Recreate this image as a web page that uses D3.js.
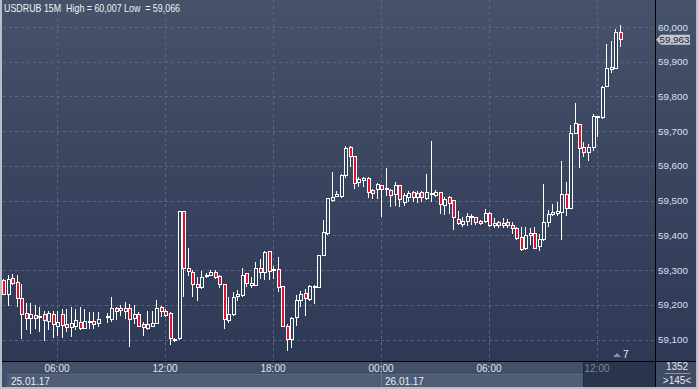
<!DOCTYPE html>
<html><head><meta charset="utf-8">
<script src="https://cdn.jsdelivr.net/npm/d3@7"></script>
<style>html,body{margin:0;padding:0;background:#2c3855;}svg{display:block;}text{font-family:"Liberation Sans",Arial,sans-serif;}</style>
</head><body>
<script>
// ---- data (15-minute candles from 25.01.17 03:00) ----
const opens = [59270,59229,59275,59263,59217,59176,59161,59170,59165,59171,59152,59171,59138,59173,59142,59135,59138,59148,59133,59150,59152,59147,null,59162,59159,59188,59184,59188,59190,59161,59171,59142,59132,59138,59147,59191,59181,59174,59100,59102,59469,59305,59294,59259,59249,59281,59285,59294,59282,59257,59155,59172,59225,59227,59289,59262,59255,59305,59294,59353,59301,59303,59253,59138,59100,59164,59212,59233,59215,59250,59251,59342,59406,59500,59513,59512,59572,59652,59627,59553,59559,59563,59529,59531,59543,59536,59529,59519,59543,59495,59509,59522,59509,59522,59505,59519,59515,59522,59487,59509,59499,59447,59432,59440,59452,59450,59440,59440,59464,59429,59436,59429,59436,59428,59421,59394,59362,59404,59404,59368,59387,59437,59459,59464,59466,59519,59478,59694,59718,59652,59639,59654,59743,59738,59830,59877,59881,59985];
const highs = [59275,59286,59288,59286,59260,59205,59205,59198,59193,59183,59183,59181,59183,59188,59188,59193,59188,59193,59188,59179,59178,59178,null,59176,59222,59193,59198,59207,59203,59198,59179,59150,59183,59183,59214,59196,59188,59179,59104,59470,59470,59363,59299,59279,59296,59292,59299,59299,59286,59257,59222,59236,59244,59305,59292,59279,59324,59332,59356,59356,59313,59337,59253,59145,59164,59227,59241,59246,59257,59257,59344,59443,59508,59583,59529,59577,59656,59657,59627,59569,59567,59569,59533,59550,59543,59593,59533,59555,59543,59521,59529,59529,59527,59529,59577,59673,59531,59524,59509,59514,59499,59469,59452,59463,59461,59454,59444,59476,59466,59450,59442,59450,59447,59437,59425,59423,59423,59421,59423,59404,59548,59473,59490,59495,59615,59555,59719,59782,59718,59670,59663,59750,59743,59829,59950,59959,59995,60007];
const lows = [59227,59196,59257,59193,59102,59126,59116,59131,59121,59097,59126,59104,59111,59104,59121,59107,59126,59126,59129,59131,59131,59135,null,59148,59150,59155,59169,59159,59078,59145,59135,59109,59126,59135,59145,59164,59164,59083,59094,59100,59222,59284,59222,59212,59246,59277,59282,59275,59248,59129,59148,59169,59212,59222,59251,59248,59253,59275,59270,59270,59275,59236,59135,59066,59075,59140,59193,59169,59212,59203,59248,59340,59402,59495,59509,59507,59565,59596,59533,59538,59538,59507,59505,59505,59454,59514,59483,59485,59481,59485,59495,59495,59493,59495,59502,59495,59511,59461,59459,59461,59415,59431,59423,59428,59430,59431,59430,59435,59423,59421,59421,59421,59421,59404,59387,59356,59357,59373,59360,59356,59384,59425,59457,59457,59387,59455,59476,59692,59593,59625,59615,59644,59683,59735,59829,59867,59880,59942];
const closes = [59229,59272,59262,59217,59171,59161,59173,59161,59167,59155,59176,59142,59148,59140,59136,59147,59154,59131,59153,59152,59143,59157,null,59165,59188,59182,59188,59181,59159,59171,59138,59136,59142,59147,59188,59181,59169,59102,59101,59469,59305,59297,59257,59250,59279,59284,59292,59278,59257,59157,59171,59222,59229,59284,59260,59256,59305,59294,59351,59296,59300,59251,59138,59100,59161,59212,59231,59217,59253,59252,59342,59409,59505,59509,59518,59572,59651,59628,59550,59562,59563,59522,59521,59545,59533,59534,59516,59543,59502,59514,59521,59509,59521,59509,59522,59521,59524,59490,59503,59493,59450,59435,59439,59454,59454,59438,59435,59464,59427,59435,59429,59435,59427,59421,59392,59360,59399,59399,59362,59389,59437,59461,59465,59468,59519,59476,59694,59721,59649,59639,59654,59743,59738,59827,59880,59884,59985,59963];

const priceTicks = [59100,59200,59300,59400,59500,59600,59700,59800,59900,60000];
const priceLabels = ["59,100","59,200","59,300","59,400","59,500","59,600","59,700","59,800","59,900","60,000"];
const timeTickIdx = [12,36,60,84,108,132];
const timeLabels = ["06:00","12:00","18:00","00:00","06:00","12:00"];
const dateLabels = ["25.01.17","26.01.17"];
const dateStartIdx = [0,84];
const titleText = "USDRUB 15M  High = 60,007 Low  = 59,066";
const lastPrice = 59963, lastLabel = "59,963";

// ---- layout ----
const W = 698, H = 389;
const plotRight = 655, plotBottom = 361;
const svg = d3.select("body").append("svg").attr("width", W).attr("height", H);
const defs = svg.append("defs");
const g = defs.append("linearGradient").attr("id","bg").attr("x1",0).attr("y1",0).attr("x2",0).attr("y2",1);
g.append("stop").attr("offset","0%").attr("stop-color","#46526a");
g.append("stop").attr("offset","100%").attr("stop-color","#2b3754");

svg.append("rect").attr("width",W).attr("height",H).attr("fill","url(#bg)");

const x = d3.scaleLinear().domain([0,137]).range([3,619.5]);
const y = d3.scaleLinear().domain([59100,60000]).range([339.5,27]);

// grid
const grid = svg.append("g").attr("stroke","#5b6782").attr("stroke-width",1).attr("stroke-dasharray","3,3").attr("shape-rendering","crispEdges");
grid.selectAll("line.h").data(priceTicks).join("line").attr("class","h")
  .attr("x1",3).attr("x2",plotRight).attr("y1",d=>Math.round(y(d))+0.5).attr("y2",d=>Math.round(y(d))+0.5);
grid.selectAll("line.v").data(timeTickIdx).join("line").attr("class","v")
  .attr("x1",d=>Math.round(x(d))+0.5).attr("x2",d=>Math.round(x(d))+0.5).attr("y1",0).attr("y2",plotBottom);

// candles
const candles = opens.map((o,i)=>({i,o,h:highs[i],l:lows[i],c:closes[i]})).filter(d=>d.o!==null);
const cg = svg.append("g").attr("shape-rendering","crispEdges");
cg.selectAll("line.w").data(candles).join("line").attr("class","w")
  .attr("x1",d=>Math.round(x(d.i))+0.5).attr("x2",d=>Math.round(x(d.i))+0.5)
  .attr("y1",d=>y(d.h)).attr("y2",d=>y(d.l)).attr("stroke","#ffffff").attr("stroke-width",1);
cg.selectAll("rect.b").data(candles).join("rect").attr("class","b")
  .attr("x",d=>Math.round(x(d.i))-1)
  .attr("width",3)
  .attr("y",d=>y(Math.max(d.o,d.c)))
  .attr("height",d=>Math.max(1,Math.abs(y(d.o)-y(d.c))))
  .attr("fill",d=>d.c<d.o?"#e3112b":"#34405c")
  .attr("stroke","#ffffff").attr("stroke-width",1);

// title
svg.append("text").attr("x",4).attr("y",11.5).attr("fill","#eef1f6").attr("font-size","10.5px")
  .attr("textLength",176).attr("lengthAdjust","spacingAndGlyphs")
  .attr("xml:space","preserve").style("white-space","pre").text(titleText);

// bottom panel
svg.append("rect").attr("x",0).attr("y",plotBottom).attr("width",W).attr("height",H-plotBottom).attr("fill","#43506a");
svg.append("rect").attr("x",7).attr("y",374).attr("width",x(84)-7).attr("height",13).attr("fill","#4f5c76");
svg.append("rect").attr("x",x(84)+1).attr("y",374).attr("width",583-x(84)-1).attr("height",13).attr("fill","#4f5c76");
svg.append("line").attr("x1",7).attr("x2",583).attr("y1",374.5).attr("y2",374.5).attr("stroke","#5c6983");
svg.append("line").attr("x1",Math.round(x(84))+0.5).attr("x2",Math.round(x(84))+0.5).attr("y1",362).attr("y2",387).attr("stroke","#6a7690");
svg.append("rect").attr("x",583).attr("y",362).attr("width",plotRight-583).attr("height",25).attr("fill","#29344d");
svg.append("line").attr("x1",583.5).attr("x2",583.5).attr("y1",362).attr("y2",387).attr("stroke","#1f2940");

svg.selectAll("text.t").data(timeTickIdx).join("text").attr("class","t")
  .attr("x",d=>x(d)).attr("y",371.5).attr("text-anchor","middle").attr("font-size","10px")
  .attr("fill",(d,k)=>x(d)>583?"#7b8598":"#dfe4ee").text((d,k)=>timeLabels[k]);
svg.selectAll("text.d").data(dateStartIdx).join("text").attr("class","d")
  .attr("x",d=>d===0?11:x(d)+4).attr("y",384.5).attr("font-size","10px").attr("fill","#e8ecf3")
  .text((d,k)=>dateLabels[k]);

// right axis
svg.selectAll("text.p").data(priceTicks).join("text").attr("class","p")
  .attr("x",658).attr("y",d=>y(d)+3.5).attr("font-size","9.8px").attr("fill","#d7e0ef")
  .text((d,k)=>priceLabels[k]);
const ly = y(lastPrice);
svg.append("path").attr("d",`M656,${ly} L661,${ly-5} L690,${ly-5} L690,${ly+5} L661,${ly+5} Z`).attr("fill","#c3c7cf");
svg.append("text").attr("x",659.5).attr("y",ly+3.5).attr("font-size","9.8px").attr("fill","#1c2232").text(lastLabel);

// bottom-right box
svg.append("rect").attr("x",plotRight).attr("y",plotBottom).attr("width",W-plotRight).attr("height",H-plotBottom).attr("fill","#3f4b64");
svg.append("text").attr("x",677).attr("y",370).attr("text-anchor","middle").attr("font-size","10px").attr("fill","#e6eaf1").text("1352");
svg.append("line").attr("x1",665).attr("x2",690).attr("y1",373.5).attr("y2",373.5).attr("stroke","#8b94a6");
svg.append("text").attr("x",677).attr("y",384).attr("text-anchor","middle").attr("font-size","10px").attr("fill","#e6eaf1").text(">145<");

// "7" marker
svg.append("path").attr("d","M613,357 L617,353 L621,357 Z").attr("fill","#8892a6");
svg.append("text").attr("x",623).attr("y",358).attr("font-size","10px").attr("fill","#eef1f6").text("7");

// separators
svg.append("line").attr("x1",0).attr("x2",W).attr("y1",plotBottom+0.5).attr("y2",plotBottom+0.5).attr("stroke","#000").attr("stroke-width",1);
svg.append("line").attr("x1",plotRight+0.5).attr("x2",plotRight+0.5).attr("y1",0).attr("y2",H).attr("stroke","#000").attr("stroke-width",1);

// frame
svg.append("rect").attr("x",0).attr("y",0).attr("width",2).attr("height",H).attr("fill","#b7bfcb");
svg.append("rect").attr("x",W-2).attr("y",0).attr("width",2).attr("height",H).attr("fill","#b7bfcb");
svg.append("rect").attr("x",0).attr("y",H-2).attr("width",W).attr("height",2).attr("fill","#b7bfcb");
</script>
</body></html>
